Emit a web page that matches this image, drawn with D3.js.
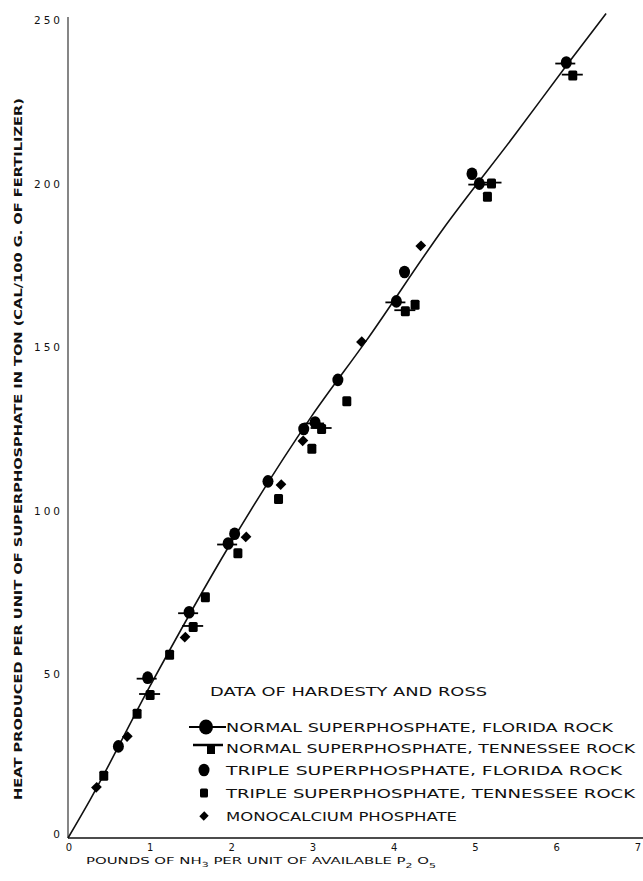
<!DOCTYPE html>
<html>
<head>
<meta charset="utf-8">
<script src="https://cdn.jsdelivr.net/npm/d3@7"></script>
<style>
  body { margin: 0; background: #fff; }
  svg { display: block; }
  text { font-family: "DejaVu Sans", sans-serif; fill: #111; }
</style>
</head>
<body>
<svg id="chart"></svg>
<script>
// values
const xTicks = [0, 1, 2, 3, 4, 5, 6, 7];
const yTicks = [0, 50, 100, 150, 200, 250];

// normal superphosphate, florida rock
const normalFloridaX = [0.98, 1.49, 1.97, 3.04, 4.04, 5.06, 6.13];
const normalFloridaY = [49, 69, 90, 127, 164, 200, 237];
// normal superphosphate, tennessee rock
const normalTennX = [1.01, 1.54, 3.12, 4.15, 5.21, 6.21];
const normalTennY = [43.7, 64.5, 125, 161, 200, 233];
// triple superphosphate, florida rock
const tripleFloridaX = [0.62, 2.05, 2.46, 2.90, 3.32, 4.14, 4.97];
const tripleFloridaY = [28, 93, 109, 125, 140, 173, 203];
// triple superphosphate, tennessee rock
const tripleTennX = [0.44, 0.85, 1.25, 1.69, 2.09, 2.59, 3.0, 3.43, 4.27, 5.16];
const tripleTennY = [19, 38, 56, 73.6, 87, 103.6, 119, 133.5, 163, 196];
// monocalcium phosphate
const monoX = [0.35, 0.73, 1.44, 2.19, 2.62, 2.89, 3.61, 4.34];
const monoY = [15.5, 31, 61.4, 92, 108, 121.4, 151.7, 181];

// the drawn curve
const curveX = [0, 0.27, 1, 2, 3, 3.67, 4.61, 5.5, 6.13, 6.62];
const curveY = [0, 11.6, 46, 90, 129, 152, 186, 215, 236, 252];

const legendLabels = [
  "NORMAL SUPERPHOSPHATE, FLORIDA ROCK",
  "NORMAL SUPERPHOSPHATE, TENNESSEE ROCK",
  "TRIPLE  SUPERPHOSPHATE, FLORIDA ROCK",
  "TRIPLE  SUPERPHOSPHATE,  TENNESSEE ROCK",
  "MONOCALCIUM  PHOSPHATE"
];

const width = 643, height = 881;
const svg = d3.select("#chart").attr("width", width).attr("height", height);

const x = d3.scaleLinear().domain([0, 7]).range([68, 637]);
const y = d3.scaleLinear().domain([0, 250]).range([838, 20]);

// axes (no tick marks, just lines and labels)
svg.append("line")
  .attr("x1", x(0)).attr("x2", width)
  .attr("y1", y(0)).attr("y2", y(0))
  .attr("stroke", "#111").attr("stroke-width", 1.6);
svg.append("line")
  .attr("x1", x(0)).attr("x2", x(0))
  .attr("y1", y(0)).attr("y2", 17)
  .attr("stroke", "#222").attr("stroke-width", 1.1);

svg.selectAll(".xt").data(xTicks).enter().append("text")
  .attr("class", "xt")
  .attr("x", d => x(d) + 1)
  .attr("y", 851)
  .attr("text-anchor", "middle")
  .style("font-size", "10px")
  .text(d => d);

svg.selectAll(".yt").data(yTicks).enter().append("text")
  .attr("class", "yt")
  .attr("x", 63)
  .attr("y", d => y(d) - (d === 0 ? 4 : 0) + 4)
  .attr("text-anchor", "end")
  .style("font-size", "10.5px")
  .style("letter-spacing", "3px")
  .text(d => d);

// axis titles
const xTitle = svg.append("text")
  .attr("x", 86).attr("y", 864)
  .attr("textLength", 350).attr("lengthAdjust", "spacingAndGlyphs")
  .style("font-size", "9.5px");
xTitle.append("tspan").text("POUNDS  OF  NH");
xTitle.append("tspan").attr("dy", 3).style("font-size", "7px").text("3");
xTitle.append("tspan").attr("dy", -3).text("  PER  UNIT  OF  AVAILABLE  P");
xTitle.append("tspan").attr("dy", 4).style("font-size", "7px").text("2");
xTitle.append("tspan").attr("dy", -4).text(" O");
xTitle.append("tspan").attr("dy", 4).style("font-size", "7px").text("5");

svg.append("text")
  .attr("transform", "translate(22,800)rotate(-90)")
  .attr("textLength", 702).attr("lengthAdjust", "spacingAndGlyphs")
  .style("font-size", "10.5px")
  .style("font-weight", "bold")
  .text("HEAT PRODUCED PER UNIT OF  SUPERPHOSPHATE IN TON (CAL/100 G. OF FERTILIZER)");

// curve
const line = d3.line().x(d => x(d[0])).y(d => y(d[1])).curve(d3.curveMonotoneX);
svg.append("path")
  .datum(d3.zip(curveX, curveY))
  .attr("d", line)
  .attr("fill", "none")
  .attr("stroke", "#111")
  .attr("stroke-width", 1.6);

// marker helpers
function circleMark(g, bar, r) {
  if (bar) g.append("line").attr("x1", -11).attr("x2", 9).attr("y1", 1).attr("y2", 1)
    .attr("stroke", "#000").attr("stroke-width", 1.8);
  g.append("ellipse").attr("rx", r).attr("ry", r + 0.8).attr("fill", "#000");
}
function squareMark(g, bar, s) {
  if (bar) g.append("line").attr("x1", -11).attr("x2", 10).attr("y1", -1).attr("y2", -1)
    .attr("stroke", "#000").attr("stroke-width", 1.8);
  g.append("rect").attr("x", -s / 2).attr("y", -s / 2 - 0.5).attr("width", s).attr("height", s + 1)
    .attr("rx", 1.5).attr("fill", "#000");
}
function diamondMark(g, s) {
  g.append("path").attr("d", d3.symbol(d3.symbolSquare, s * s)())
    .attr("transform", "rotate(45)scale(0.9,1)").attr("fill", "#000");
}

function plot(xs, ys, cls, draw) {
  svg.selectAll("." + cls).data(d3.zip(xs, ys)).enter().append("g")
    .attr("class", cls)
    .attr("transform", d => "translate(" + x(d[0]) + "," + y(d[1]) + ")")
    .each(function () { draw(d3.select(this)); });
}

plot(tripleTennX, tripleTennY, "tt", g => squareMark(g, false, 9));
plot(monoX, monoY, "mo", g => diamondMark(g, 8));
plot(tripleFloridaX, tripleFloridaY, "tf", g => circleMark(g, false, 5.5));
plot(normalTennX, normalTennY, "nt", g => squareMark(g, true, 9));
plot(normalFloridaX, normalFloridaY, "nf", g => circleMark(g, true, 5.5));

// legend
svg.append("text")
  .attr("x", 210).attr("y", 696)
  .attr("textLength", 277).attr("lengthAdjust", "spacingAndGlyphs")
  .style("font-size", "13px")
  .text("DATA OF HARDESTY AND ROSS");

const rowY = [727, 748, 770, 793, 816];
const rowEnd = [613, 635, 622, 635, 457];
const legend = svg.append("g");
legendLabels.forEach((lab, i) => {
  legend.append("text")
    .attr("x", 226).attr("y", rowY[i] + 5)
    .attr("textLength", rowEnd[i] - 226).attr("lengthAdjust", "spacingAndGlyphs")
    .style("font-size", "13px")
    .text(lab);
});

const lg0 = legend.append("g").attr("transform", "translate(206," + rowY[0] + ")");
lg0.append("line").attr("x1", -17).attr("x2", 20).attr("stroke", "#000").attr("stroke-width", 2);
lg0.append("ellipse").attr("rx", 7).attr("ry", 7.5).attr("fill", "#000");

const lg1 = legend.append("g").attr("transform", "translate(211," + rowY[1] + ")");
lg1.append("line").attr("x1", -18).attr("x2", 12).attr("y1", -3).attr("y2", -3)
  .attr("stroke", "#000").attr("stroke-width", 2.5);
lg1.append("rect").attr("x", -4).attr("y", -4).attr("width", 8).attr("height", 10).attr("fill", "#000");

circleMark(legend.append("g").attr("transform", "translate(204," + rowY[2] + ")"), false, 5.5);
squareMark(legend.append("g").attr("transform", "translate(204," + rowY[3] + ")"), false, 8);
diamondMark(legend.append("g").attr("transform", "translate(204," + rowY[4] + ")"), 7);
</script>
</body>
</html>
